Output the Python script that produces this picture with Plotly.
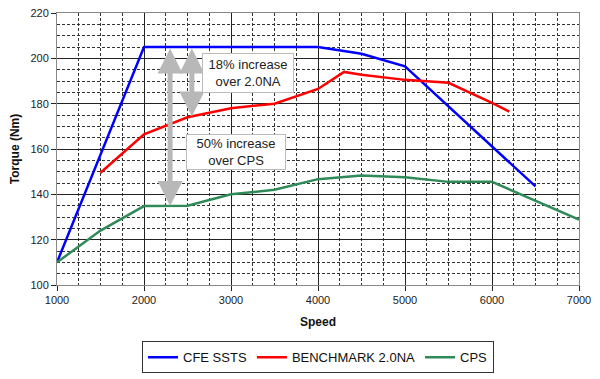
import plotly.graph_objects as go

cfe_speed = [1000, 2000, 4000, 4500, 5000, 5500, 6000, 6500]
cfe_torque = [110, 205, 205, 202, 196.5, 178.8, 161, 143.5]

bench_speed = [1500, 2000, 2500, 3000, 3500, 4000, 4300, 4500, 5000, 5500, 6000, 6200]
bench_torque = [149.5, 166.5, 174, 178, 180, 186.5, 194, 192.8, 190.5, 189.2, 180.3, 176.5]

cps_speed = [1000, 1500, 2000, 2500, 3000, 3500, 4000, 4500, 5000, 5500, 6000, 6500, 7000]
cps_torque = [110, 124, 134.8, 135, 140, 142, 146.7, 148.3, 147.5, 145.5, 145.5, 137.2, 128.8]

names = ["CFE SSTS", "BENCHMARK 2.0NA", "CPS"]
colors = ["#0000ff", "#ff0000", "#2e8b57"]

FONT = "Liberation Sans, Arial, sans-serif"

fig = go.Figure()
for sp, tq, nm, c in [(cfe_speed, cfe_torque, names[0], colors[0]),
                      (bench_speed, bench_torque, names[1], colors[1]),
                      (cps_speed, cps_torque, names[2], colors[2])]:
    fig.add_trace(go.Scatter(x=sp, y=tq, mode="lines", name=nm,
                             line=dict(color=c, width=2.5)))

arrow_color = "#b8b8b8"
for x, y0, y1 in [(2300, 205, 134.8), (2550, 205, 174.3)]:
    fig.add_annotation(x=x, y=y1, ax=x, ay=y0, xref="x", yref="y", axref="x", ayref="y",
                       text="", showarrow=True, arrowhead=2, arrowside="end+start",
                       arrowwidth=5, arrowsize=1.0, arrowcolor=arrow_color,
                       standoff=0, startstandoff=0)

fig.add_annotation(x=3196, y=193.4, xref="x", yref="y", text="18% increase<br>over 2.0NA",
                   showarrow=False, font=dict(family=FONT, size=13, color="#222"),
                   bgcolor="white", bordercolor="#bbbbbb", borderwidth=1, borderpad=3,
                   width=84, align="center")
fig.add_annotation(x=3058, y=158.8, xref="x", yref="y", text="50% increase<br>over CPS",
                   showarrow=False, font=dict(family=FONT, size=13, color="#222"),
                   bgcolor="white", bordercolor="#bbbbbb", borderwidth=1, borderpad=1,
                   width=96, align="center")

fig.update_layout(
    width=600, height=379,
    margin=dict(l=57, r=21, t=13, b=94, autoexpand=False),
    paper_bgcolor="white", plot_bgcolor="white",
    font=dict(family=FONT, size=11, color="#222"),
    showlegend=True,
    legend=dict(orientation="h", x=0.5, xanchor="center", y=-0.207, yanchor="top",
                bordercolor="#333", borderwidth=1, font=dict(size=13, color="#111"),
                itemwidth=30, tracegroupgap=0),
)
fig.update_xaxes(range=[1000, 7000], dtick=1000, tick0=1000, automargin=False,
                 showgrid=True, gridcolor="#222", gridwidth=1,
                 minor=dict(dtick=250, showgrid=True, gridcolor="#333", griddash="3px,2px", gridwidth=1),
                 showline=True, linecolor="#888", mirror=True, zeroline=False,
                 ticks="outside", ticklen=5, tickcolor="#222",
                 title=dict(text="<b>Speed</b>", font=dict(size=12, color="#111"), standoff=12))
fig.update_yaxes(range=[100, 220], dtick=20, tick0=100, automargin=False,
                 showgrid=True, gridcolor="#222", gridwidth=1,
                 minor=dict(dtick=5, showgrid=True, gridcolor="#333", griddash="3px,2px", gridwidth=1),
                 showline=True, linecolor="#888", mirror=True, zeroline=False,
                 ticks="outside", ticklen=5, tickcolor="#222",
                 title=dict(text="<b>Torque (Nm)</b>", font=dict(size=12, color="#111"), standoff=8))

fig.write_html("out.html", config={"displayModeBar": False},
               post_script="document.body.style.margin='0';document.body.style.padding='0';")
